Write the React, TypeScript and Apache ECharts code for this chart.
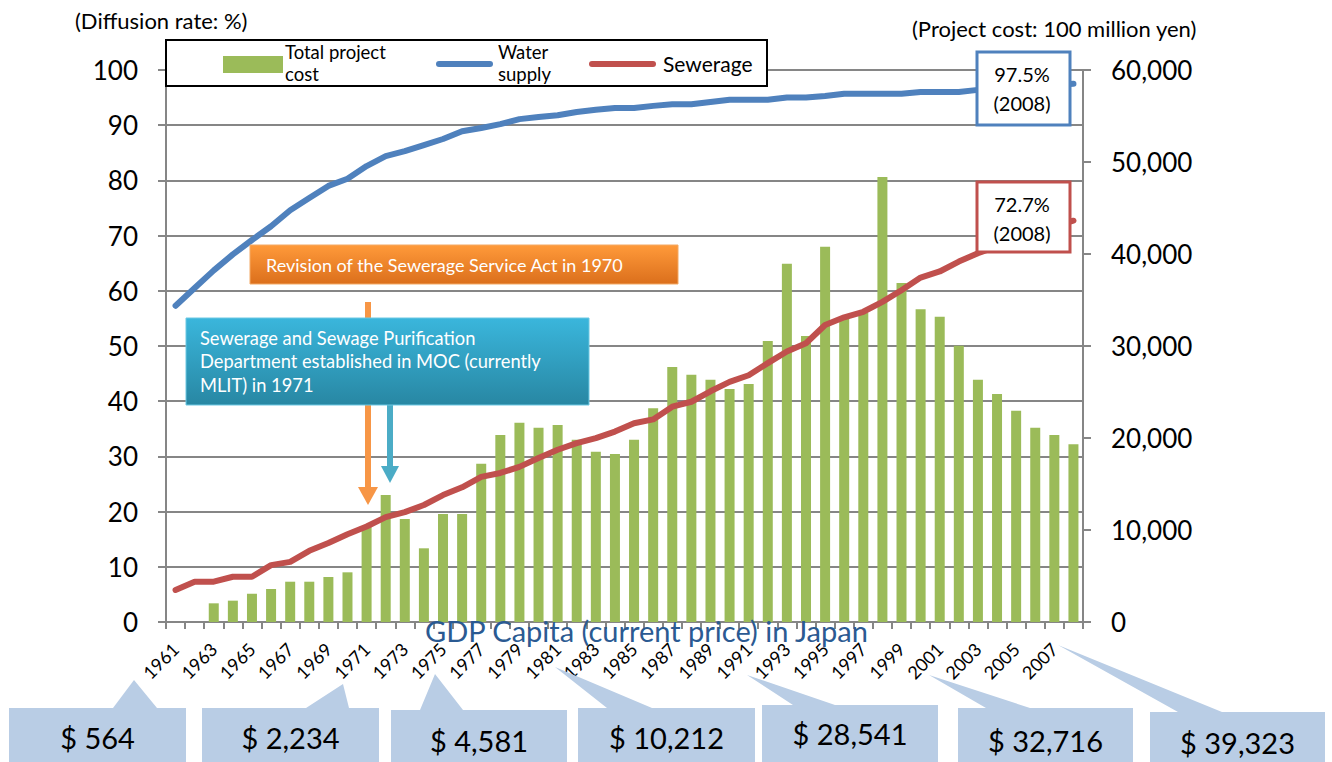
import React, { useEffect, useRef } from "react";
import * as echarts from "echarts";

const years = [
  "1961","1962","1963","1964","1965","1966","1967","1968","1969","1970",
  "1971","1972","1973","1974","1975","1976","1977","1978","1979","1980",
  "1981","1982","1983","1984","1985","1986","1987","1988","1989","1990",
  "1991","1992","1993","1994","1995","1996","1997","1998","1999","2000",
  "2001","2002","2003","2004","2005","2006","2007","2008",
];

// Total project cost (100 million yen), right axis
const projectCost = [
  null, null, 2030, 2320, 3080, 3590, 4380, 4380, 4890, 5400,
  10400, 13800, 11200, 8010, 11740, 11740, 17210, 20330, 21660, 21120,
  21410, 19820, 18510, 18260, 19820, 23230, 27720, 26880, 26340, 25330,
  25870, 30540, 38950, 31090, 40800, 33000, 33600, 48370, 36850, 33990,
  33190, 30030, 26340, 24780, 22970, 21120, 20330, 19310,
];

// Water supply diffusion rate (%), left axis
const waterSupply = [
  57.3, 60.5, 63.7, 66.6, 69.2, 71.7, 74.6, 76.8, 79.0, 80.3,
  82.6, 84.4, 85.3, 86.4, 87.5, 88.9, 89.5, 90.2, 91.1, 91.5,
  91.8, 92.4, 92.8, 93.1, 93.1, 93.5, 93.8, 93.8, 94.2, 94.6,
  94.6, 94.6, 95.0, 95.0, 95.3, 95.7, 95.7, 95.7, 95.7, 96.0,
  96.0, 96.0, 96.4, 96.6, 96.8, 97.1, 97.3, 97.5,
];

// Sewerage diffusion rate (%), left axis
const sewerage = [
  5.8, 7.3, 7.3, 8.2, 8.2, 10.3, 10.9, 12.9, 14.3, 15.9,
  17.3, 19.0, 19.9, 21.2, 23.0, 24.4, 26.3, 27.0, 28.1, 29.7,
  31.2, 32.4, 33.3, 34.5, 36.0, 36.7, 39.0, 39.9, 41.8, 43.5,
  44.7, 46.9, 49.0, 50.5, 53.8, 55.2, 56.2, 58.0, 60.1, 62.4,
  63.5, 65.3, 66.8, 68.1, 69.3, 70.5, 71.7, 72.7,
];

const gdpLabels = ["$ 564", "$ 2,234", "$ 4,581", "$ 10,212", "$ 28,541", "$ 32,716", "$ 39,323"];

// Callout geometry (layout only): left, right, top, pointer base left/right, pointer tip, text y
const calloutLayout = [
  { l: 9, r: 186, t: 708, bl: 113, br: 157, tx: 134, ty: 680, y: 737 },
  { l: 202, r: 379, t: 708, bl: 306, br: 349, tx: 343, ty: 684, y: 737 },
  { l: 391, r: 567, t: 710, bl: 420, br: 463, tx: 435, ty: 674, y: 740 },
  { l: 578, r: 755, t: 708, bl: 607, br: 652, tx: 555, ty: 667, y: 737 },
  { l: 762, r: 938, t: 705, bl: 793, br: 835, tx: 747, ty: 675, y: 733 },
  { l: 958, r: 1133, t: 708, bl: 986, br: 1030, tx: 929, ty: 675, y: 740 },
  { l: 1150, r: 1325, t: 712, bl: 1178, br: 1222, tx: 1058, ty: 645, y: 742 },
];

const FONT = "Lato, 'Noto Sans', sans-serif";
const GRAY = "#868686";
const GREEN = "#9BBB59";
const BLUE = "#4F81BD";
const RED = "#C0504D";

function buildGraphics() {
  const g: any[] = [];
  const Z = 100;
  const txt = (text: string, x: number, y: number, size: number, fill = "#000", align = "left", extra: any = {}) => ({
    type: "text",
    x,
    y,
    z: Z + 2,
    style: { text, fill, font: `${size}px ${FONT}`, align, verticalAlign: "middle", ...extra },
  });

  // axis unit titles
  g.push(txt("(Diffusion rate: %)", 75, 20, 22));
  g.push(txt("(Project cost: 100 million yen)", 912, 28, 22));

  // legend
  g.push({ type: "rect", z: Z, shape: { x: 166, y: 40, width: 601, height: 46 }, style: { fill: "#fff", stroke: "#000", lineWidth: 2 } });
  g.push({ type: "rect", z: Z + 1, shape: { x: 223, y: 56, width: 60, height: 17 }, style: { fill: GREEN } });
  g.push(txt("Total project", 285, 52, 18.5));
  g.push(txt("cost", 285, 74, 18.5));
  g.push({ type: "line", z: Z + 1, shape: { x1: 439, y1: 64, x2: 490, y2: 64 }, style: { stroke: BLUE, lineWidth: 6, lineCap: "round" } });
  g.push(txt("Water", 498, 52, 18.5));
  g.push(txt("supply", 498, 74, 18.5));
  g.push({ type: "line", z: Z + 1, shape: { x1: 592, y1: 64, x2: 653, y2: 64 }, style: { stroke: RED, lineWidth: 6, lineCap: "round" } });
  g.push(txt("Sewerage", 663, 63, 21));

  // value boxes
  g.push({ type: "rect", z: Z, shape: { x: 977, y: 52, width: 93, height: 73 }, style: { fill: "#fff", stroke: BLUE, lineWidth: 3 } });
  g.push(txt("97.5%", 1022, 74, 20, "#000", "center"));
  g.push(txt("(2008)", 1022, 103, 20, "#000", "center"));
  g.push({ type: "rect", z: Z, shape: { x: 977, y: 182, width: 93, height: 70 }, style: { fill: "#fff", stroke: RED, lineWidth: 3 } });
  g.push(txt("72.7%", 1022, 204, 20, "#000", "center"));
  g.push(txt("(2008)", 1022, 233, 20, "#000", "center"));

  // orange annotation
  g.push({
    type: "rect", z: Z, shape: { x: 250, y: 245, width: 428, height: 39 },
    style: {
      fill: new echarts.graphic.LinearGradient(0, 0, 0, 1, [
        { offset: 0, color: "#FF9A3A" },
        { offset: 1, color: "#DB6F1C" },
      ]),
      stroke: "#F3A965", lineWidth: 1,
    },
  });
  g.push(txt("Revision of the Sewerage Service Act in 1970", 266, 265, 18, "#fff"));
  g.push({ type: "rect", z: Z, shape: { x: 365, y: 302, width: 6, height: 188 }, style: { fill: "#F79646" } });
  g.push({ type: "polygon", z: Z, shape: { points: [[358, 487], [378, 487], [368, 505]] }, style: { fill: "#F79646" } });

  // teal annotation
  g.push({
    type: "rect", z: Z + 1, shape: { x: 186, y: 318, width: 403, height: 87 },
    style: {
      fill: new echarts.graphic.LinearGradient(0, 0, 0, 1, [
        { offset: 0, color: "#3AB6DC" },
        { offset: 1, color: "#2887A3" },
      ]),
      stroke: "#6CC8E3", lineWidth: 1,
    },
  });
  g.push(txt("Sewerage and Sewage Purification", 200, 338, 18.3, "#fff"));
  g.push(txt("Department established in MOC (currently", 200, 361, 18.3, "#fff"));
  g.push(txt("MLIT) in 1971", 200, 385, 18.3, "#fff"));
  g.push({ type: "rect", z: Z, shape: { x: 387, y: 405, width: 6, height: 65 }, style: { fill: "#4BACC6" } });
  g.push({ type: "polygon", z: Z, shape: { points: [[381, 466], [399, 466], [390, 483]] }, style: { fill: "#4BACC6" } });

  // GDP title
  g.push(txt("GDP Capita (current price) in Japan", 425, 630, 29, "#2B5A92"));

  // GDP callouts
  calloutLayout.forEach((c, i) => {
    g.push({
      type: "polygon",
      z: Z,
      shape: {
        points: [[c.l, c.t], [c.bl, c.t], [c.tx, c.ty], [c.br, c.t], [c.r, c.t], [c.r, 780], [c.l, 780]],
      },
      style: { fill: "#B9CDE5" },
    });
    g.push(txt(gdpLabels[i], (c.l + c.r) / 2, c.y, 29, "#000", "center"));
  });
  return g;
}

export default function App() {
  const ref = useRef<HTMLDivElement>(null);
  useEffect(() => {
    if (!ref.current) return;
    const chart = echarts.init(ref.current, undefined, { renderer: "svg" });
    const axisLineStyle = { color: GRAY, width: 2 };
    chart.setOption({
      animation: false,
      backgroundColor: "#fff",
      textStyle: { fontFamily: FONT },
      grid: { left: 166, top: 70, width: 917, height: 552, containLabel: false },
      xAxis: {
        type: "category",
        data: years,
        boundaryGap: true,
        axisLine: { show: true, lineStyle: axisLineStyle },
        axisTick: { show: true, interval: 0, length: 7, lineStyle: axisLineStyle },
        axisLabel: { interval: 1, rotate: 45, fontSize: 18, color: "#000", margin: 24, fontFamily: FONT },
        splitLine: { show: false },
      },
      yAxis: [
        {
          type: "value",
          min: 0,
          max: 100,
          interval: 10,
          position: "left",
          axisLine: { show: true, lineStyle: axisLineStyle },
          axisTick: { show: true, length: 8, lineStyle: axisLineStyle },
          axisLabel: { fontSize: 26, color: "#000", margin: 28, fontFamily: FONT },
          splitLine: { show: true, lineStyle: { color: GRAY, width: 2 } },
        },
        {
          type: "value",
          min: 0,
          max: 60000,
          interval: 10000,
          position: "right",
          axisLine: { show: true, lineStyle: axisLineStyle },
          axisTick: { show: true, length: 8, lineStyle: axisLineStyle },
          axisLabel: {
            fontSize: 26,
            color: "#000",
            margin: 28,
            fontFamily: FONT,
            formatter: (v: number) => v.toLocaleString("en-US"),
          },
          splitLine: { show: false },
        },
      ],
      series: [
        {
          name: "Total project cost",
          type: "bar",
          yAxisIndex: 1,
          data: projectCost,
          barWidth: 10,
          itemStyle: { color: GREEN },
          z: 2,
        },
        {
          name: "Water supply",
          type: "line",
          yAxisIndex: 0,
          data: waterSupply,
          symbol: "none",
          lineStyle: { color: BLUE, width: 6, cap: "round", join: "round" },
          z: 3,
        },
        {
          name: "Sewerage",
          type: "line",
          yAxisIndex: 0,
          data: sewerage,
          symbol: "none",
          lineStyle: { color: RED, width: 6, cap: "round", join: "round" },
          z: 3,
        },
      ],
      graphic: { elements: buildGraphics() },
    });
    return () => chart.dispose();
  }, []);
  return (
    <div
      ref={ref}
      style={{ position: "absolute", left: 0, top: 0, width: 1332, height: 762, background: "#fff" }}
    />
  );
}
